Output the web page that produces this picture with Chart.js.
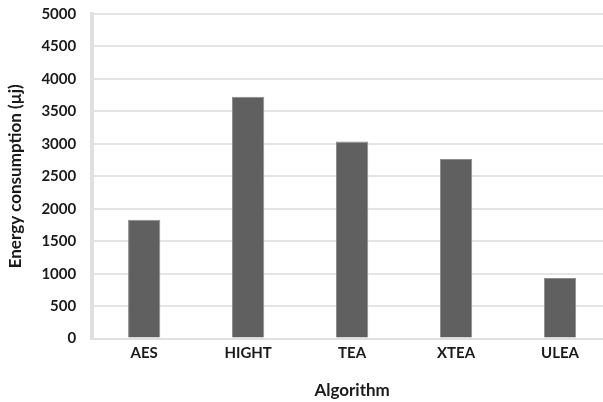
<!DOCTYPE html>
<html>
<head>
<meta charset="utf-8">
<script src="https://cdn.jsdelivr.net/npm/chart.js@4/dist/chart.umd.min.js"></script>
<style>
  html, body { margin: 0; padding: 0; background: #fff; overflow: hidden; }
  #wrap { width: 612px; height: 402px; overflow: hidden; }
  #energyChart { display: block; margin-top: -11px; }
</style>
</head>
<body>
<div id="wrap"><canvas id="energyChart" width="612" height="418"></canvas></div>
<script>
var algorithms = ['AES', 'HIGHT', 'TEA', 'XTEA', 'ULEA'];
var energy = [1830, 3725, 3035, 2765, 935];
var yTitle = 'Energy consumption (\u00b5j)';
var xTitle = 'Algorithm';

var tickFont = { family : 'Lato', size : 15, weight : 'bold' };
var titleFont = { family : 'Lato', size : 17, weight : 'bold' };

var ctx = document.getElementById('energyChart').getContext('2d');

new Chart(ctx, {
  type : 'bar',
  data : {
    labels : algorithms,
    datasets : [
      {
        data : energy,
        backgroundColor : '#606060',
        borderColor : '#8c8c8c',
        borderWidth : 1,
        barPercentage : 0.31,
        categoryPercentage : 1,
      },
    ],
  },
  options : {
    responsive : false,
    animation : false,
    layout : { padding : { top : -4, left : 1, right : 0, bottom : 2 } },
    plugins : {
      legend : { display : false },
      tooltip : { enabled : false },
    },
    scales : {
      x : {
        grid : { display : false, drawTicks : false },
        border : { color : '#e0e0e0', width : 2 },
        ticks : { color : '#1a1a1a', font : tickFont, padding : 6 },
        title : {
          display : true,
          text : xTitle,
          color : '#1a1a1a',
          font : titleFont,
          padding : { top : 12 },
        },
      },
      y : {
        min : 0,
        max : 5000,
        ticks : {
          stepSize : 500,
          color : '#1a1a1a',
          font : tickFont,
          padding : 16,
          callback : function (value) { return String(value); },
        },
        grid : { color : '#e4e4e4', lineWidth : 2, drawTicks : false },
        border : { color : '#e0e0e0', width : 4 },
        title : {
          display : true,
          text : yTitle,
          color : '#1a1a1a',
          font : titleFont,
          padding : { bottom : 0 },
        },
      },
    },
  },
});
</script>
</body>
</html>
